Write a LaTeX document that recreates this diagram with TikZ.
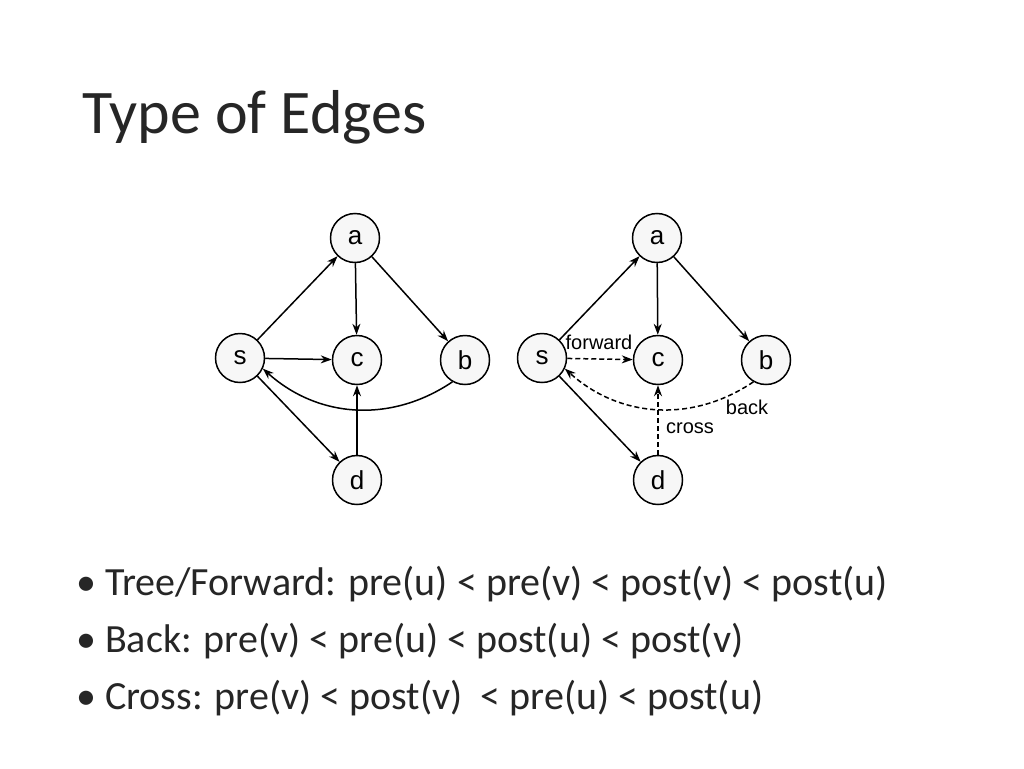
\documentclass[tikz,border=0pt]{standalone}
\usepackage{fontspec}
\setmainfont{Carlito}
\newfontfamily\gfont{Liberation Sans}
\usetikzlibrary{arrows.meta}
\begin{document}
\begin{tikzpicture}[x=1pt,y=-1pt,
  vtx/.style={circle,draw,line width=1.5pt,fill=gray!6,minimum size=49pt,inner sep=0pt,font=\gfont\fontsize{26}{26}\selectfont},
  edge/.style={-{Stealth[length=11pt,width=8pt]},line width=1.5pt},
  dedge/.style={edge,dash pattern=on 5pt off 3pt},
  lbl/.style={font=\gfont\fontsize{20}{20}\selectfont,inner sep=1pt}]
\useasboundingbox[fill=white] (0,0) rectangle (1024,768);
\node[anchor=base west,font=\fontsize{62}{62}\selectfont,text=black!85,inner sep=0pt] (title) at (82,133) {Type of Edges};
% left graph
\node[vtx] (a) at (355,238) {a};
\node[vtx] (s) at (240,358) {s};
\node[vtx] (c) at (357,360) {c};
\node[vtx] (b) at (465,360) {b};
\node[vtx] (d) at (357,480) {d};
\draw[edge] (s) -- (a);
\draw[edge] (a) -- (c);
\draw[edge] (a) -- (b);
\draw[edge] (s) -- (c);
\draw[edge] (s) -- (d);
\draw[edge] (d) -- (c);
\draw[edge] (b.240) to[bend left=38] (s.-25);
% right graph
\node[vtx] (a2) at (657,238) {a};
\node[vtx] (s2) at (542,358) {s};
\node[vtx] (c2) at (658,360) {c};
\node[vtx] (b2) at (766,360) {b};
\node[vtx] (d2) at (658,480) {d};
\draw[edge] (s2) -- (a2);
\draw[edge] (a2) -- (c2);
\draw[edge] (a2) -- (b2);
\draw[dedge] (s2) -- (c2);
\draw[edge] (s2) -- (d2);
\draw[dedge] (d2) -- (c2);
\draw[dedge] (b2.240) to[bend left=38] (s2.-25);
\node[lbl] (fw) at (599,342) {forward};
\node[lbl] (bk) at (747,407) {back};
\node[lbl] (cr) at (690,428) {cross};
% bullets
\begin{scope}[every node/.style={anchor=base west,font=\fontsize{40}{40}\selectfont,text=black!85,inner sep=0pt}]
\node (b1) at (76,595) {\textbullet\ Tree/Forward: pre(u) < pre(v) < post(v) < post(u)};
\node (b2l) at (76,652) {\textbullet\ Back: pre(v) < pre(u) < post(u) < post(v)};
\node (b3) at (76,709) {\textbullet\ Cross: pre(v) < post(v) \ < pre(u) < post(u)};
\end{scope}
\end{tikzpicture}
\end{document}
